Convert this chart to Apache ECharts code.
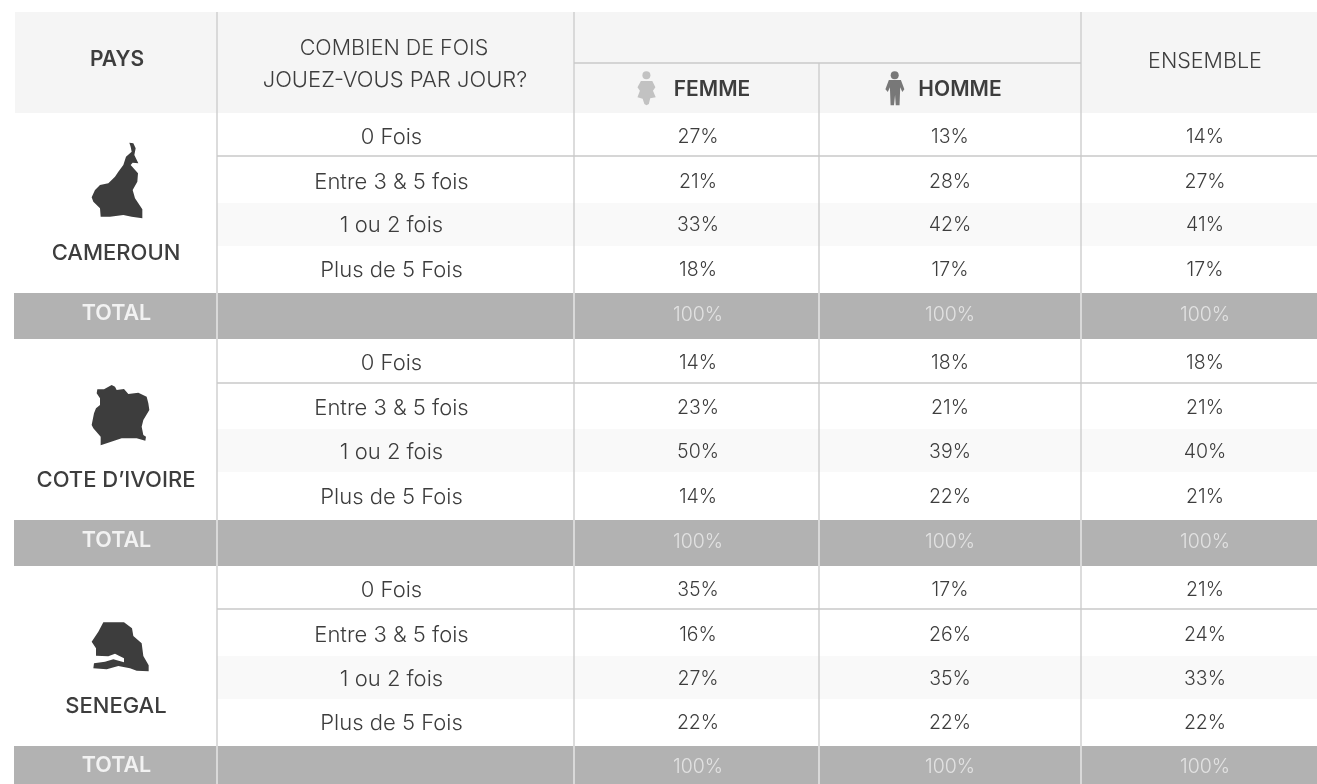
<!DOCTYPE html>
<html>
<head>
<meta charset="utf-8">
<title>Combien de fois jouez-vous par jour</title>
<style>
  html, body { margin: 0; padding: 0; background: #fff; }
  #chart { width: 1317px; height: 784px; }
</style>
<script src="https://cdn.jsdelivr.net/npm/echarts@6/dist/echarts.min.js"></script>
</head>
<body>
<div id="chart"></div>
<script>
// table content
const countries = ['CAMEROUN', 'COTE D\u2019IVOIRE', 'SENEGAL']
const frequencies = ['0 Fois', 'Entre 3 & 5 fois', '1 ou 2 fois', 'Plus de 5 Fois']
const totalLabel = 'TOTAL'
const headers = ['PAYS', 'COMBIEN DE FOIS', 'JOUEZ-VOUS PAR JOUR?', 'FEMME', 'HOMME', 'ENSEMBLE']

// one entry per row, the 5th of each block is the total
const femme = [27, 21, 33, 18, 100, 14, 23, 50, 14, 100, 35, 16, 27, 22, 100]
const homme = [13, 28, 42, 17, 100, 18, 21, 39, 22, 100, 17, 26, 35, 22, 100]
const ensemble = [14, 27, 41, 17, 100, 18, 21, 40, 21, 100, 21, 24, 33, 22, 100]

// layout of the table, in px of the page
const rowCenters = [137, 182, 225, 270, 315, 363, 408, 452, 497, 542, 590, 635, 679, 723, 767]
const totalBands = [[293, 339], [520, 566], [746, 784]]
const lightBands = [[203, 246], [429, 472], [656, 699]]
const rowRules = [156, 383, 609]
const columnRules = [217, 574, 819, 1081]
const countryLabelY = [253, 480, 706]

const TEXT = '#3d3d3d'
const RULE = '#c9c9c9'
const FONT = 'Inter'
const ROW_SIZE = 22
const PERCENT_SIZE = 19.5

// silhouettes
const cameroonShape = [[388, 428], [400, 430], [407, 445], [403, 465], [415, 490], [398, 488], [392, 495], [414, 520], [412, 545], [398, 570], [405, 595], [427, 628], [427, 655], [395, 650], [370, 645], [330, 650], [302, 650], [300, 625], [280, 605], [275, 592], [285, 570], [300, 555], [325, 550], [345, 530], [355, 515], [370, 495], [378, 470], [395, 455], [392, 440]]
const ivoryShape = [[292, 178], [312, 178], [335, 165], [345, 170], [350, 180], [372, 177], [385, 192], [415, 188], [440, 200], [445, 220], [448, 240], [430, 270], [425, 290], [430, 315], [438, 320], [436, 332], [410, 325], [365, 325], [302, 346], [302, 320], [280, 295], [275, 285], [282, 250], [288, 235], [300, 225], [300, 205], [290, 190]]
const senegalShape = [[310, 187], [372, 187], [396, 205], [400, 228], [425, 250], [430, 288], [446, 316], [446, 334], [410, 332], [390, 325], [355, 318], [320, 328], [280, 325], [282, 310], [315, 305], [340, 298], [372, 307], [372, 295], [345, 281], [325, 289], [288, 287], [288, 265], [275, 245], [295, 215]]
const femmeShape = [[235, 243], [268, 243], [277, 262], [270, 272], [278, 292], [262, 295], [258, 312], [251, 316], [245, 312], [240, 296], [225, 292], [232, 272], [225, 262]]
const hommeShape = [[955, 240], [990, 240], [1000, 268], [994, 276], [988, 262], [986, 316], [975, 316], [973, 285], [970, 316], [960, 316], [958, 262], [952, 276], [945, 268]]

const chart = echarts.init(document.getElementById('chart'), null, { renderer: 'canvas' })

// zoomed crop coords back to page px
function traced (points, offsetX, offsetY, scaleX) {
  return points.map(p => [offsetX + p[0] / scaleX, offsetY + p[1] / 3])
}

function silhouette (points, offsetX, offsetY, color, scaleX) {
  return {
    type: 'polygon',
    shape: { points: traced(points, offsetX, offsetY, scaleX || 3) },
    style: { fill: color },
    z: 10
  }
}

function textGraphic (text, x, y, size, weight, color, align) {
  return {
    type: 'text',
    x: x,
    y: y,
    style: {
      text: text,
      font: weight + ' ' + size + 'px ' + FONT,
      fill: color,
      align: align || 'center',
      verticalAlign: 'middle'
    },
    z: 10
  }
}

// rectangles from y0 to y1
function bandSeries (bands, x0, x1, color, z) {
  return {
    type: 'custom',
    coordinateSystem: 'cartesian2d',
    silent: true,
    z: z,
    data: bands,
    encode: { y: [0, 1] },
    renderItem (params, api) {
      const a = api.coord([x0, api.value(0)])
      const b = api.coord([x1, api.value(1)])
      return {
        type: 'rect',
        shape: { x: a[0], y: a[1], width: b[0] - a[0], height: b[1] - a[1] },
        style: { fill: color }
      }
    }
  }
}

function ruleSeries (lines, color, z) {
  return {
    type: 'custom',
    coordinateSystem: 'cartesian2d',
    silent: true,
    z: z,
    data: lines,
    renderItem (params, api) {
      const a = api.coord([api.value(0), api.value(1)])
      const b = api.coord([api.value(2), api.value(3)])
      return {
        type: 'line',
        shape: { x1: a[0], y1: a[1], x2: b[0], y2: b[1] },
        style: { stroke: color, lineWidth: 1.3 }
      }
    }
  }
}

// a text column: one row per entry
function columnSeries (texts, centerX, size) {
  return {
    type: 'custom',
    coordinateSystem: 'cartesian2d',
    silent: true,
    z: 8,
    data: texts.map((t, i) => [centerX, rowCenters[i], t]),
    renderItem (params, api) {
      const p = api.coord([api.value(0), api.value(1)])
      const isTotal = (params.dataIndex + 1) % 5 === 0
      return {
        type: 'text',
        x: p[0],
        y: p[1],
        style: {
          text: texts[params.dataIndex],
          font: '300 ' + size + 'px ' + FONT,
          fill: isTotal ? '#e2e2e2' : TEXT,
          align: 'center',
          verticalAlign: 'middle'
        }
      }
    }
  }
}

const percent = values => values.map(v => v + '%')
const questionColumn = femme.map((v, i) => (i % 5 === 4 ? '' : frequencies[i % 5]))

const ruleLines = [
  [columnRules[0], 12, columnRules[0], 784],
  [columnRules[1], 12, columnRules[1], 784],
  [columnRules[2], 63, columnRules[2], 784],
  [columnRules[3], 12, columnRules[3], 784],
  [columnRules[1], 63, columnRules[3], 63]
].concat(rowRules.map(y => [columnRules[0], y, 1317, y]))

const totalDividers = []
totalBands.forEach(b => {
  columnRules.forEach(x => totalDividers.push([x, b[0], x, b[1]]))
})

const graphics = [
  textGraphic(headers[0], 117, 60, 21, 600, TEXT),
  textGraphic(headers[1], 394, 49, 21.5, 300, TEXT),
  textGraphic(headers[2], 395, 80, 22, 300, TEXT),
  textGraphic(headers[3], 712, 90, 21, 600, TEXT),
  textGraphic(headers[4], 960, 90, 21, 600, TEXT),
  textGraphic(headers[5], 1205, 62, 21.5, 300, TEXT),
  { type: 'circle', shape: { cx: 646.4, cy: 75.3, r: 4 }, style: { fill: '#c2c2c2' }, z: 10 },
  silhouette(femmeShape, 560, 0, '#c2c2c2', 2.904),
  { type: 'circle', shape: { cx: 894.7, cy: 75.3, r: 4 }, style: { fill: '#787878' }, z: 10 },
  silhouette(hommeShape, 560, 0, '#787878', 2.904),
  silhouette(cameroonShape, 0, 0, TEXT),
  silhouette(ivoryShape, 0, 330, TEXT),
  silhouette(senegalShape, 0, 560, TEXT)
]
countries.forEach((name, i) => {
  graphics.push(textGraphic(name, 116, countryLabelY[i], 22, 500, TEXT))
  graphics.push(textGraphic(totalLabel, 116.5, rowCenters[5 * i + 4] - 1, 21.5, 600, '#f2f2f2'))
})

chart.setOption({
  animation: false,
  grid: { left: 0, right: 0, top: 0, bottom: 0 },
  xAxis: { type: 'value', min: 0, max: 1317, show: false },
  yAxis: { type: 'value', min: 0, max: 784, inverse: true, show: false },
  graphic: graphics,
  series: [
    bandSeries([[12, 113]], 15, 1317, '#f5f5f5', 1),
    bandSeries(lightBands, columnRules[0], 1317, '#f9f9f9', 1),
    bandSeries(totalBands, 14, 1317, '#b2b2b2', 2),
    ruleSeries(ruleLines, RULE, 3),
    ruleSeries(totalDividers, '#e6e6e6', 4),
    columnSeries(questionColumn, 391.5, ROW_SIZE),
    columnSeries(percent(femme), 698, PERCENT_SIZE),
    columnSeries(percent(homme), 950, PERCENT_SIZE),
    columnSeries(percent(ensemble), 1205, PERCENT_SIZE)
  ]
})
</script>
</body>
</html>
